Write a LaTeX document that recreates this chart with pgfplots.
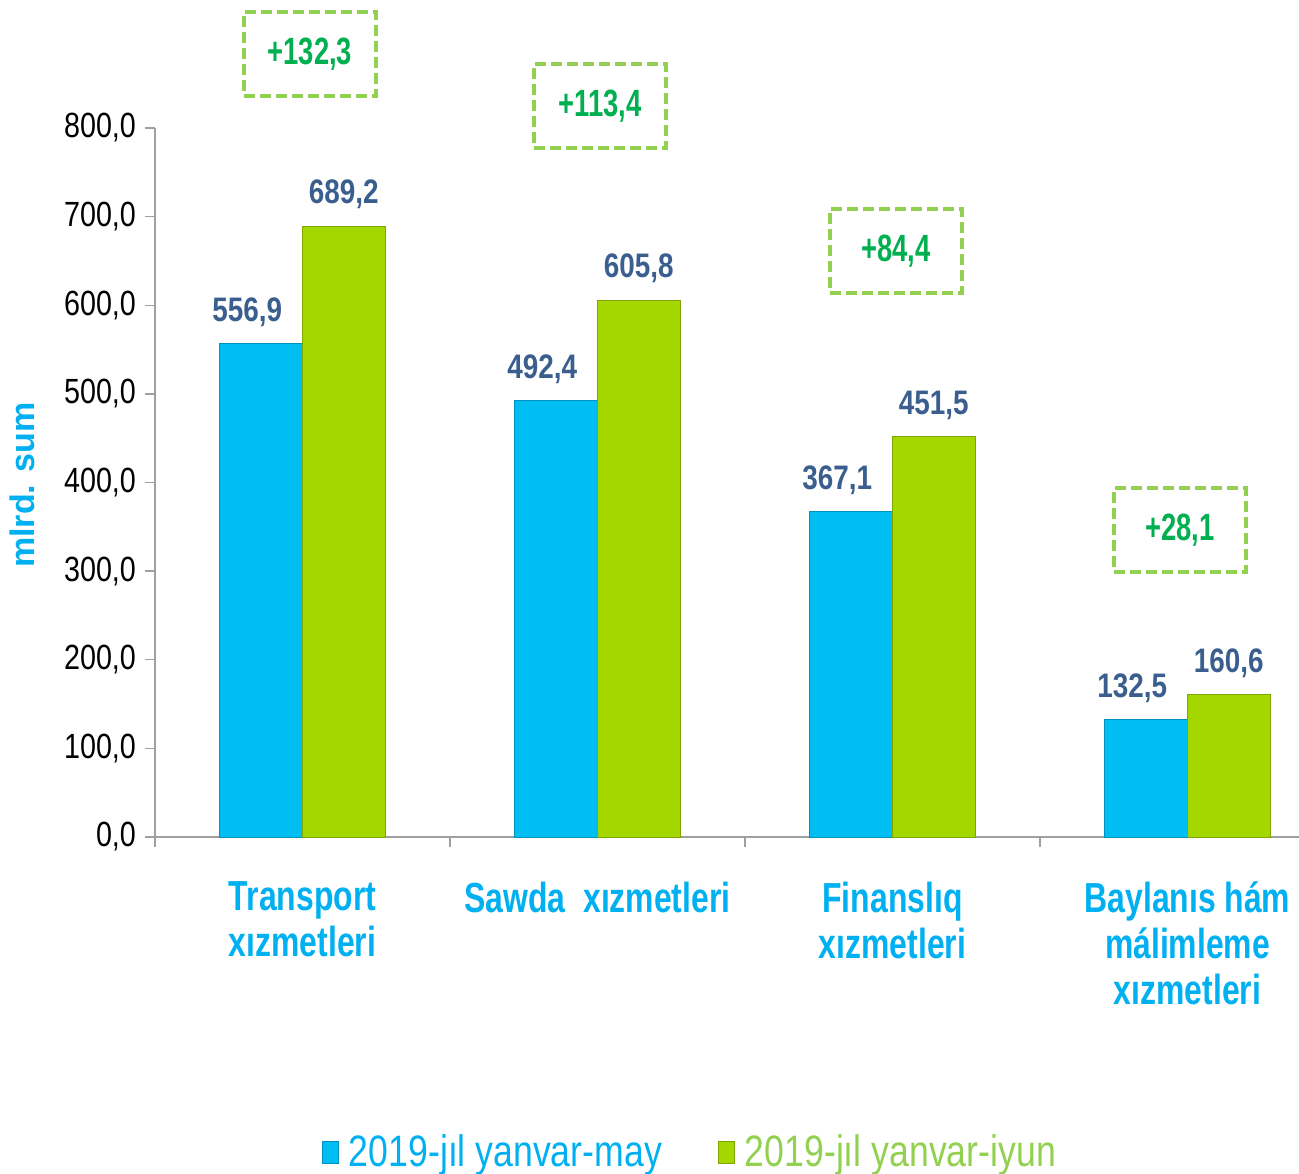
\documentclass[border=0pt]{standalone}
\usepackage{pgfplots}
\pgfplotsset{compat=1.18}
\usepackage{fontspec}
\setmainfont{Liberation Sans}
\newfontfamily\fTick{Liberation Sans}[FakeStretch=0.82]
\newfontfamily\fData{Liberation Sans}[FakeStretch=0.82]
\newfontfamily\fCat{Liberation Sans}[FakeStretch=0.76]
\newfontfamily\fLeg{Liberation Sans}[FakeStretch=0.81]
\newfontfamily\fBox{Liberation Sans}[FakeStretch=0.72]
\definecolor{barblue}{HTML}{00BDF2}
\definecolor{bargreen}{HTML}{A4D600}
\definecolor{edgeblue}{HTML}{0092C2}
\definecolor{edgegreen}{HTML}{7FA600}
\definecolor{lblcol}{HTML}{3A5F8F}
\definecolor{catcol}{HTML}{00B0F0}
\definecolor{leggreen}{HTML}{92D050}
\definecolor{boxtext}{HTML}{00B050}
\begin{document}
\begin{tikzpicture}
\begin{axis}[
  at={(0,0)}, anchor=south west,
  scale only axis, width=572pt, height=354.5pt,
  xmin=-0.5, xmax=3.378, ymin=0, ymax=800,
  clip=false,
  axis x line=bottom, axis y line=left,
  axis line style={draw=gray!75, line width=0.7pt, -},
  ybar=0pt, bar width=0.28,
  xtick={0,1,2,3},
  xticklabels={Transport\\xızmetleri, Sawda\ \ xızmetleri, Finanslıq\\xızmetleri, Baylanıs hám\\málimleme\\xızmetleri},
  major x tick style={draw=none},
  minor xtick={-0.5,0.5,1.5,2.5},
  minor x tick style={draw=gray!75, line width=0.7pt},
  minor tick length=5pt,
  tick align=outside,
  ytick={0,100,...,800},
  major tick length=5pt,
  y tick style={draw=gray!75, line width=0.7pt},
  xticklabel style={align=center, text=catcol, font=\fCat\bfseries\fontsize{21}{23}\selectfont, yshift=-14pt},
  yticklabel style={font=\fTick\fontsize{17.5}{19}\selectfont, xshift=-1pt},
  /pgf/number format/.cd, fixed, fixed zerofill, precision=1, use comma, assume math mode=true,
  /pgfplots/.cd,
  nodes near coords,
  every node near coord/.append style={font=\fData\bfseries\fontsize{17}{19}\selectfont, text=lblcol, yshift=5pt},
  legend style={at={(0.4685,-0.444)}, anchor=center, draw=none, fill=none, legend columns=2,
    /tikz/every even column/.append style={column sep=26pt},
    font=\fLeg\fontsize{22}{24}\selectfont},
  legend image code/.code={\fill[#1] (0pt,-6pt) rectangle (8pt,5pt);},
]
\addplot[fill=barblue, draw=edgeblue, line width=0.5pt, every node near coord/.append style={xshift=-7pt}] coordinates {(0,556.9) (1,492.4) (2,367.1) (3,132.5)};
\addplot[fill=bargreen, draw=edgegreen, line width=0.5pt] coordinates {(0,689.2) (1,605.8) (2,451.5) (3,160.6)};
\legend{\hspace{3pt}\textcolor{catcol}{2019-jıl yanvar-may}, \hspace{3pt}\textcolor{leggreen}{2019-jıl yanvar-iyun}}
\node[rotate=90, text=catcol, font=\bfseries\fontsize{17}{19}\selectfont] at (rel axis cs:-0.116,0.4965) {mlrd. sum};
\tikzset{gbox/.style={draw=leggreen, dash pattern=on 5.5pt off 2.5pt, line width=2pt, minimum width=66pt, minimum height=42pt, text=boxtext, font=\fBox\bfseries\fontsize{19}{21}\selectfont}}
\node[gbox] at (axis cs:0.025,883.7) {+132,3};
\node[gbox] at (axis cs:1.008,825) {+113,4};
\node[gbox] at (axis cs:2.012,661) {+84,4};
\node[gbox] at (axis cs:2.975,346.5) {+28,1};
\end{axis}
\pgfresetboundingbox
\useasboundingbox (-77.5pt,-168pt) rectangle (572pt,418.5pt);
\end{tikzpicture}
\end{document}
